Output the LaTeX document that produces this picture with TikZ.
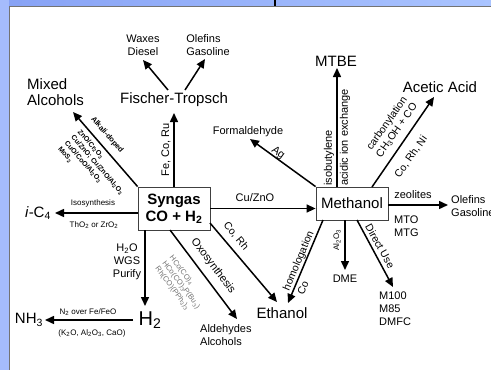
\documentclass[tikz,border=0pt]{standalone}
\usepackage{fontspec}
\setmainfont{Liberation Sans}
\usetikzlibrary{arrows.meta}
\definecolor{bandL}{RGB}{135,162,245}
\definecolor{bandR}{RGB}{170,196,255}
\definecolor{bandS}{RGB}{165,188,252}
\begin{document}
\begin{tikzpicture}[x=1pt,y=-1pt,
  arr/.style={line width=1.5pt,-{Triangle[length=9pt,width=8pt]}},
  big/.style={font=\fontsize{15}{16}\selectfont, inner sep=0pt},
  med/.style={font=\fontsize{11}{13}\selectfont, inner sep=0pt},
  lab/.style={font=\fontsize{10.5}{12}\selectfont, inner sep=0pt},
  sml/.style={font=\fontsize{8}{9}\selectfont, inner sep=0pt},
  tinyb/.style={font=\bfseries\fontsize{7}{8.7}\selectfont, inner sep=0pt, align=left},
  hco/.style={font=\fontsize{7.5}{9}\selectfont, inner sep=0pt, align=left, text=black!55},
  box/.style={draw=black!75, line width=0.8pt, fill=white, inner sep=0pt, align=center}]
\useasboundingbox (0,0) rectangle (491,370);
\fill[white] (0,0) rectangle (491,370);
\shade[left color=bandL, right color=bandR] (0,0) rectangle (491,6);
\fill[bandS] (0,0) rectangle (9,370);
\draw[black!55, line width=0.8pt] (9,370) -- (9,6) -- (491,6);
\fill[black] (274,0) rectangle (276,6);

% boxes
\node[box, minimum width=72pt, minimum height=43pt, font=\bfseries\fontsize{15}{17}\selectfont] (syn) at (174,208.5) {Syngas\\CO + H\textsubscript{2}};
\node[box, minimum width=72pt, minimum height=33pt, font=\fontsize{15}{16}\selectfont] (meth) at (352,203.5) {Methanol};

% product texts
\node[big] (ft) at (174,100) {Fischer-Tropsch};
\node[med, align=center] (wax) at (143,45) {Waxes\\Diesel};
\node[med, align=left] (olft) at (208,45) {Olefins\\Gasoline};
\node[big, align=left, anchor=west] (mix) at (27,92) {Mixed\\Alcohols};
\node[big] (ic4) at (38,213) {\textit{i}-C\textsubscript{4}};
\node[font=\fontsize{20}{20}\selectfont, inner sep=0pt] (h2) at (150,320) {H\textsubscript{2}};
\node[big] (nh3) at (29,320) {NH\textsubscript{3}};
\node[med, align=left, anchor=west] (ald) at (200,335) {Aldehydes\\Alcohols};
\node[big] (eth) at (282,313) {Ethanol};
\node[med] (dme) at (345,279) {DME};
\node[med, align=left, anchor=west] (mfuel) at (379,309) {M100\\M85\\DMFC};
\node[med, align=left, anchor=west] (olm) at (451,206.5) {Olefins\\Gasoline};
\node[big] (acet) at (440,87) {Acetic Acid};
\node[med] (form) at (248,132) {Formaldehyde};
\node[big] (mtbe) at (336,61) {MTBE};

% labels
\node[med] (lcu) at (255,198) {Cu/ZnO};
\node[med, rotate=90] (lfe) at (166,150) {Fe, Co, Ru};
\node[font=\bfseries\fontsize{7.5}{9}\selectfont, inner sep=0pt, rotate=-49] (lalk) at (107,135) {Alkali-doped};
\node[tinyb, rotate=-49] (lcat) at (94,168) {ZnO/Cr\textsubscript{2}O\textsubscript{3}\\Cu/ZnO; Cu/ZnO/Al\textsubscript{2}O\textsubscript{3}\\CuO/CoO/Al\textsubscript{2}O\textsubscript{3}\\MoS\textsubscript{2}};
\node[sml] (liso) at (93,203) {Isosynthesis};
\node[sml] (ltho) at (94,225) {ThO\textsubscript{2} or ZrO\textsubscript{2}};
\node[med, align=center] (lwgs) at (127,262) {H\textsubscript{2}O\\WGS\\Purify};
\node[sml] (ln2) at (88,312) {N\textsubscript{2} over Fe/FeO};
\node[sml] (lk2o) at (92,333) {(K\textsubscript{2}O, Al\textsubscript{2}O\textsubscript{3}, CaO)};
\node[med, rotate=-53] (loxo) at (213,266) {Oxosynthesis};
\node[hco, rotate=-53] (lhco) at (181,285) {HCo(CO)\textsubscript{4}\\HCo(CO)\textsubscript{3}P(Bu\textsubscript{3})\\Rh(CO)(PPh\textsubscript{3})\textsubscript{3}};
\node[lab, rotate=-50] (lcorh) at (236,236) {Co, Rh};
\node[lab, rotate=67] (lhom) at (299,261) {homologation};
\node[lab, rotate=67] (lhco2) at (303,288) {Co};
\node[sml, rotate=90] (lal) at (337,240) {Al\textsubscript{2}O\textsubscript{3}};
\node[lab, rotate=-61] (ldir) at (380,246) {Direct Use};
\node[med] (lzeo) at (413,195) {zeolites};
\node[med, align=left, anchor=west] (lmto) at (394,226.5) {MTO\\MTG};
\node[lab, align=center, rotate=55] (lcarb) at (392,127) {carbonylation\\CH\textsubscript{3}OH + CO};
\node[lab, rotate=55] (lconi) at (411,157) {Co, Rh, Ni};
\node[med, rotate=-36] (lag) at (278,153) {Ag};
\node[med, rotate=90, anchor=west] (libut) at (329,186) {isobutylene};
\node[med, rotate=90, anchor=west] (lacid) at (345,186) {acidic ion exchange};

% connector end points
\coordinate (ftIn) at (174,113);
\coordinate (ftA) at (168,90);
\coordinate (waxIn) at (143,60);
\coordinate (ftB) at (185,90);
\coordinate (olftIn) at (205,59);
\coordinate (mixIn) at (73,112);
\coordinate (synW) at (138,213);
\coordinate (ic4In) at (55,213);
\coordinate (synS) at (145,230);
\coordinate (h2In) at (145,306);
\coordinate (h2Out) at (133,320);
\coordinate (nh3In) at (45,320);
\coordinate (synSa) at (170,230);
\coordinate (aldIn) at (237,319);
\coordinate (synE) at (210,223);
\coordinate (ethInA) at (277,302);
\coordinate (methSW) at (323,220);
\coordinate (ethInB) at (288,303);
\coordinate (methS) at (345,220);
\coordinate (dmeIn) at (345,270);
\coordinate (methSE) at (357,220);
\coordinate (mfuelIn) at (393,287);
\coordinate (methE) at (388,205);
\coordinate (olmIn) at (448,205);
\coordinate (methNE) at (372,187);
\coordinate (acetIn) at (434,97);
\coordinate (formIn) at (250,139);
\coordinate (methN) at (337,187);
\coordinate (mtbeIn) at (337,68);

% connectors
\draw[arr] (syn.east) -- (syn.east -| meth.west);
\draw[arr] (syn.north) -- (ftIn);
\draw[arr] (ftA) -- (waxIn);
\draw[arr] (ftB) -- (olftIn);
\draw[arr] (syn.north west) -- (mixIn);
\draw[arr] (synW) -- (ic4In);
\draw[arr] (synS) -- (h2In);
\draw[arr] (h2Out) -- (nh3In);
\draw[arr] (synSa) -- (aldIn);
\draw[arr] (synE) -- (ethInA);
\draw[arr] (methSW) -- (ethInB);
\draw[arr] (methS) -- (dmeIn);
\draw[arr] (methSE) -- (mfuelIn);
\draw[arr] (methE) -- (olmIn);
\draw[arr] (methNE) -- (acetIn);
\draw[arr] (meth.north west) -- (formIn);
\draw[arr] (methN) -- (mtbeIn);
\end{tikzpicture}
\end{document}
